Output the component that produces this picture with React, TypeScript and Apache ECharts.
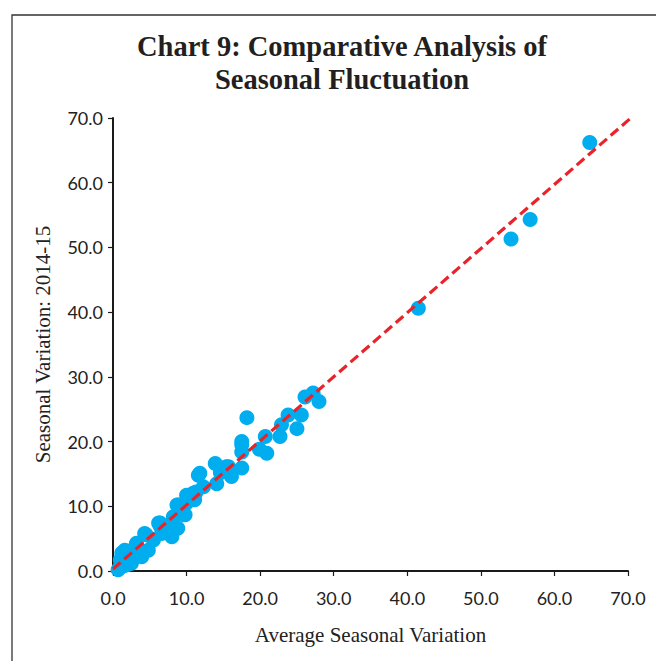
import React, { useEffect, useRef } from "react";
import * as echarts from "echarts";

const avgSeasonal: number[] = [
  64.8, 56.7, 54.1, 41.5,
  26.1, 27.2, 28.0, 25.6, 23.8, 22.9, 25.0, 22.7, 20.7, 20.9, 18.2, 17.5, 17.5, 17.5, 17.5,
  13.9, 15.4, 15.7, 11.8, 14.1, 16.1, 11.6, 10.9, 10.0, 8.9, 9.6, 8.2, 6.4, 7.7, 8.8,
  11.1, 11.3, 9.8, 8.7, 10.0, 6.2, 6.6, 4.3, 3.2, 1.6, 1.0, 0.7, 2.5, 3.9, 4.8, 8.0,
  1.2, 3.1, 4.5, 6.4, 2.0, 1.5, 2.8, 3.5, 5.5, 0.9, 14.6, 19.9, 12.3
];
const season201415: number[] = [
  66.2, 54.3, 51.3, 40.6,
  26.9, 27.5, 26.2, 24.1, 24.1, 22.6, 22.0, 20.8, 20.8, 18.2, 23.7, 20.0, 18.4, 15.9, 19.5,
  16.6, 16.1, 16.1, 15.1, 13.5, 14.6, 14.8, 12.0, 10.5, 10.2, 8.7, 8.4, 7.4, 7.1, 6.6,
  11.0, 12.2, 8.7, 10.2, 11.7, 7.4, 5.8, 5.8, 4.3, 3.2, 1.7, 0.2, 1.2, 2.2, 3.2, 5.3,
  2.8, 3.9, 5.6, 7.0, 1.0, 0.8, 2.0, 2.6, 4.8, 0.5, 15.2, 18.8, 13.0
];
const fitLineX: number[] = [0, 72.2];
const fitLineY: number[] = [0.3, 71.8];

const titleText = "Chart 9: Comparative Analysis of\nSeasonal Fluctuation";
const xName = "Average Seasonal Variation";
const yName = "Seasonal Variation: 2014-15";

export default function App() {
  const ref = useRef<HTMLDivElement>(null);
  useEffect(() => {
    if (!ref.current) return;
    const chart = echarts.init(ref.current, null, { renderer: "svg" });
    const serif = "'Liberation Serif', 'DejaVu Serif', serif";
    const sans = "Lato, 'Open Sans', sans-serif";
    const axisCommon = {
      type: "value" as const,
      min: 0,
      max: 70,
      interval: 10,
      splitLine: { show: false },
      axisLine: { show: true, onZero: false, lineStyle: { color: "#1a1a1a", width: 2 } },
      axisTick: { show: true, inside: false, length: 5, lineStyle: { color: "#1a1a1a", width: 1.2 } },
      nameLocation: "middle" as const,
      nameTextStyle: { fontFamily: serif, fontSize: 21, color: "#222" },
    };
    chart.setOption({
      animation: false,
      backgroundColor: "#ffffff",
      title: {
        text: titleText,
        left: 337,
        top: 25,
        textAlign: "center",
        textStyle: { fontFamily: serif, fontWeight: "bold", fontSize: 28.5, color: "#231f20", lineHeight: 33 },
      },
      graphic: [
        {
          type: "rect",
          shape: { x: 12, y: 15, width: 720, height: 720 },
          style: { fill: "none", stroke: "#333", lineWidth: 1.3 },
          silent: true,
          z: -1,
        },
      ],
      grid: { left: 113, right: 28, top: 118, bottom: 90 },
      xAxis: {
        ...axisCommon,
        name: xName,
        nameGap: 53,
        axisLabel: {
          fontFamily: sans,
          fontSize: 18,
          color: "#222",
          margin: 18,
          formatter: (v: number) => v.toFixed(1),
        },
      },
      yAxis: {
        ...axisCommon,
        name: yName,
        nameGap: 60,
        axisLabel: {
          fontFamily: sans,
          fontSize: 18,
          color: "#222",
          margin: 10,
          formatter: (v: number) => v.toFixed(1),
        },
      },
      series: [
        {
          type: "scatter",
          symbol: "circle",
          symbolSize: 15,
          itemStyle: { color: "#00AEEF", opacity: 1 },
          data: avgSeasonal.map((x, i) => [x, season201415[i]]),
          z: 2,
        },
        {
          type: "line",
          clip: false,
          symbol: "none",
          data: fitLineX.map((x, i) => [x, fitLineY[i]]),
          lineStyle: { color: "#E8242A", width: 3.2, type: [10, 5] },
          z: 3,
        },
      ],
    });
    return () => chart.dispose();
  }, []);
  return (
    <div
      ref={ref}
      style={{ position: "absolute", left: 0, top: 0, width: 656, height: 661 }}
    />
  );
}
